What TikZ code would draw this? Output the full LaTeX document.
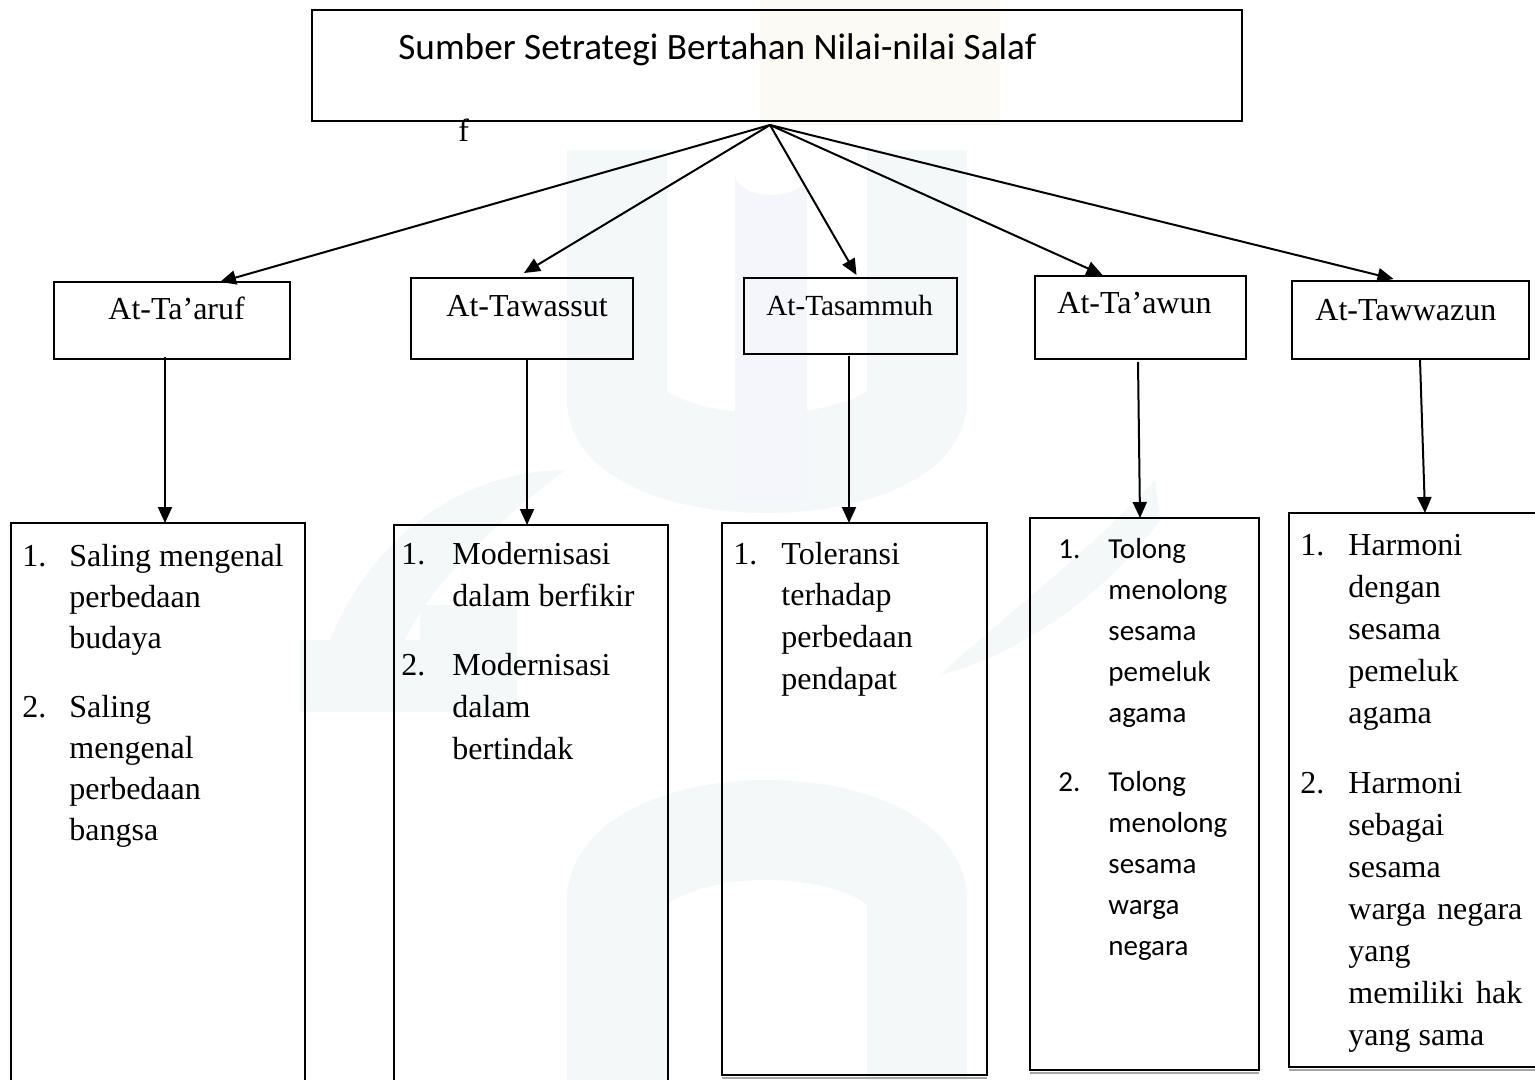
\documentclass[tikz,border=0pt]{standalone}
\usepackage{fontspec}
\setmainfont{Liberation Serif}
\newfontfamily\calfont{Carlito}
\usetikzlibrary{arrows.meta}
\definecolor{wm}{RGB}{245,248,248}
\definecolor{wmb}{RGB}{244,246,251}
\definecolor{wmy}{RGB}{252,250,244}
\tikzset{
  boxst/.style={draw=black, line width=0.8pt, inner sep=0pt, outer sep=0pt, fill=none},
  conn/.style={line width=1pt, -{Triangle[length=8pt,width=7pt]}},
  ser/.style={font=\fontsize{16}{20}\selectfont, inner sep=0pt, anchor=base west},
  sert/.style={font=\fontsize{14.6}{18}\selectfont, inner sep=0pt, anchor=base west},
  cal/.style={font=\calfont\fontsize{14.5}{18}\selectfont, inner sep=0pt, anchor=base west},
  ttl/.style={font=\calfont\fontsize{18.6}{22}\selectfont, inner sep=0pt, anchor=base west},
}
\newcommand\mybox[5]{\node[boxst, minimum width={(#4-#2)/2}, minimum height={(#5-#3)/2}] (#1) at ({(#2+#4)/2},{(#3+#5)/2}) {};}
\begin{document}
\begin{tikzpicture}[x=0.5pt,y=-0.5pt]
\useasboundingbox (0,0) rectangle (1535,1080);
\fill[white] (0,0) rectangle (1535,1080);
% faint watermark
\begin{scope}
\fill[wmy] (760,0) rectangle (1000,125);
\draw[wm, line width=50pt] (617,150) -- (617,400) arc (180:0:150 and 63) -- (917,150);
\fill[wmb] (735,175) arc (180:0:36 and 20) -- (807,500) -- (735,500) -- cycle;
\fill[wm] (300,712) -- (300,640) -- (420,640) -- (420,605) -- (517,605) -- (517,712) -- cycle;
\fill[wm] (330,640) .. controls (380,520) and (480,470) .. (565,470) .. controls (500,520) and (430,580) .. (400,650) -- cycle;
\fill[wm] (1155,480) .. controls (1080,560) and (1000,620) .. (940,675) .. controls (1020,655) and (1110,590) .. (1160,520) -- cycle;
\draw[wm, line width=50pt] (617,1080) -- (617,900) arc (180:360:150 and 70) -- (917,1080);
\end{scope}
% title box
\mybox{top}{312}{10}{1242}{121}
\node[ttl] (ttext) at (398,60) {Sumber Setrategi Bertahan Nilai-nilai Salaf};
\node[ser] (stray) at (458,142) {f};
\coordinate (src) at (770,125);
% level 2 boxes
\mybox{a1}{54}{282}{290}{359}
\mybox{a2}{411}{278}{633}{359}
\mybox{a3}{744}{278}{957}{354}
\mybox{a4}{1035}{276}{1246}{359}
\mybox{a5}{1292}{281}{1529}{359}
\node[ser] (l1) at (108,320) {At-Ta’aruf};
\node[ser] (l2) at (446,317) {At-Tawassut};
\node[sert] (l3) at (766,316) {At-Tasammuh};
\node[ser] (l4) at (1057,314) {At-Ta’awun};
\node[ser] (l5) at (1315,321) {At-Tawwazun};
% bottom boxes
\mybox{b1}{11}{523}{305}{1090}
\mybox{b2}{394}{525}{668}{1090}
\mybox{b3}{722}{523}{987}{1075}
\mybox{b4}{1030}{518}{1259}{1070}
\mybox{b5}{1289}{513}{1545}{1067}
\draw[gray!70, line width=1pt] (b3.south west) ++(0,3) -- ++(265,0);
\draw[gray!70, line width=1pt] (b4.south west) ++(0,3) -- ++(229,0);
\draw[gray!70, line width=1pt] (b5.south west) ++(0,3) -- ++(256,0);
% connectors
\draw[conn] (src) -- ([xshift=24pt]a1.north);
\draw[conn] (src) -- ([xshift=1pt,yshift=2.5pt]a2.north);
\draw[conn] (src) -- ([xshift=3pt,yshift=1.5pt]a3.north);
\draw[conn] (src) -- ([xshift=-19pt,yshift=0.5pt]a4.north);
\draw[conn] (src) -- ([xshift=-8.5pt,yshift=1pt]a5.north);
\draw[conn] ([xshift=-3.5pt,yshift=1pt]a1.south) -- ([xshift=3.5pt]b1.north);
\draw[conn] ([xshift=2.5pt]a2.south) -- ([xshift=-2pt]b2.north);
\draw[conn] ([xshift=-0.75pt,yshift=-1pt]a3.south) -- ([xshift=-2.75pt]b3.north);
\draw[conn] ([xshift=-1.25pt,yshift=-1.5pt]a4.south) -- ([xshift=-2.25pt]b4.north);
\draw[conn] ([xshift=4.75pt,yshift=-0.5pt]a5.south) -- ([xshift=4pt]b5.north);
% box 1 text
\node[ser] (n11) at (22,566) {1.};
\foreach \t [count=\i] in {Saling mengenal,perbedaan,budaya}
  \node[ser] (t11-\i) at (69,{566+41*(\i-1)}) {\t};
\node[ser] (n12) at (22,717) {2.};
\foreach \t [count=\i] in {Saling,mengenal,perbedaan,bangsa}
  \node[ser] (t12-\i) at (69,{717+41*(\i-1)}) {\t};
% box 2 text
\node[ser] (n21) at (401,564) {1.};
\foreach \t [count=\i] in {Modernisasi,dalam berfikir}
  \node[ser] (t21-\i) at (452,{564+42*(\i-1)}) {\t};
\node[ser] (n22) at (401,675) {2.};
\foreach \t [count=\i] in {Modernisasi,dalam,bertindak}
  \node[ser] (t22-\i) at (452,{675+42*(\i-1)}) {\t};
% box 3 text
\node[ser] (n31) at (733,564) {1.};
\foreach \t [count=\i] in {Toleransi,terhadap,perbedaan,pendapat}
  \node[ser] (t31-\i) at (781,{564+41.7*(\i-1)}) {\t};
% box 4 text
\node[cal] (n41) at (1058,558) {1.};
\foreach \t [count=\i] in {Tolong,menolong,sesama,pemeluk,agama}
  \node[cal] (t41-\i) at (1108,{558+41*(\i-1)}) {\t};
\node[cal] (n42) at (1058,791) {2.};
\foreach \t [count=\i] in {Tolong,menolong,sesama,warga,negara}
  \node[cal] (t42-\i) at (1108,{791+41*(\i-1)}) {\t};
% box 5 text
\node[ser] (n51) at (1300,555) {1.};
\foreach \t [count=\i] in {Harmoni,dengan,sesama,pemeluk,agama}
  \node[ser] (t51-\i) at (1348,{555+42*(\i-1)}) {\t};
\node[ser] (n52) at (1300,793) {2.};
\foreach \t [count=\i] in {Harmoni,sebagai,sesama,\hbox to 87pt{warga\hfill negara},yang,\hbox to 87pt{memiliki\hfill hak},yang sama}
  \node[ser] (t52-\i) at (1348,{793+42*(\i-1)}) {\t};
\end{tikzpicture}
\end{document}
